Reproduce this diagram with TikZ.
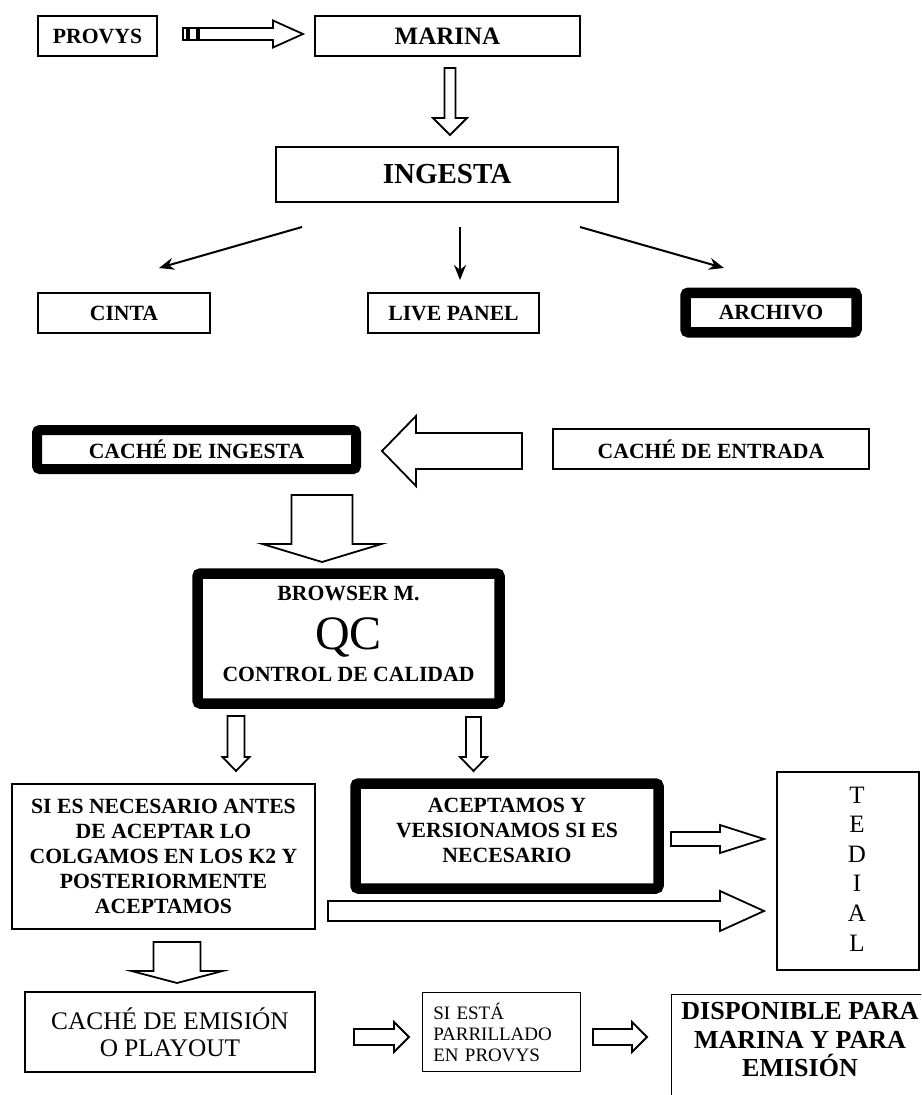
\documentclass[tikz,border=0pt]{standalone}
\usepackage{fontspec}
\setmainfont{Liberation Serif}
\usetikzlibrary{calc,arrows.meta,positioning}

\tikzset{
  box/.style={draw, line width=1.3pt, inner sep=0pt, align=center},
  heavybox/.style={draw, line width=10.5pt, rounded corners=3pt, inner sep=0pt, align=center},
  blockarr/.style={draw, line width=1.8pt, fill=white, line join=miter},
  flow/.style={-{Stealth[length=15pt,width=12pt]}, line width=2pt},
  bf/.style={font=\fontsize{21.7}{25}\selectfont\bfseries},
}

% hollow arrow: tail, tip, half shaft width, half head width, head length
\newcommand{\blockarrow}[5]{
  \path ($(#2)!#5!(#1)$) coordinate (bah);
  \draw[blockarr] ($(#1)!#3!90:(#2)$) -- ($(bah)!#3!90:(#2)$) -- ($(bah)!#4!90:(#2)$) -- (#2)
    -- ($(bah)!#4!-90:(#2)$) -- ($(bah)!#3!-90:(#2)$) -- ($(#1)!#3!-90:(#2)$) -- cycle;
}

\begin{document}
\begin{tikzpicture}[x=1pt,y=-1pt]
  \path[use as bounding box, fill=white] (0,0) rectangle (921,1095);
  \clip (0,0) rectangle (921,1095);

  \node[box, bf, minimum width=119pt, minimum height=40pt] (provys) at (97.5,36) {PROVYS};
  \node[box, minimum width=265pt, minimum height=40pt, font=\fontsize{25}{29}\selectfont\bfseries] (marina) at (447.5,36) {MARINA};
  \node[box, minimum width=342pt, minimum height=55pt, font=\fontsize{29}{33}\selectfont\bfseries] (ingesta) at (447,174.5) {INGESTA};

  \node[box, bf, minimum width=172pt, minimum height=40pt] (cinta) at (124,313) {CINTA};
  \node[box, bf, minimum width=171pt, minimum height=40pt] (live) at (453.5,313) {LIVE PANEL};
  \node[heavybox, bf, minimum width=171pt, minimum height=39.5pt] (archivo) at (771,312.5) {ARCHIVO};

  \node[heavybox, bf, line width=10pt, minimum width=319pt, minimum height=39pt] (ingcache) at (196.5,449.5) {CACHÉ DE INGESTA};
  \node[box, bf, minimum width=316pt, minimum height=40pt] (entcache) at (711,449) {CACHÉ DE ENTRADA};

  % control de calidad
  \node[heavybox, minimum width=302pt, minimum height=130pt] (qc) at (348.5,638.5) {};
  \node[bf] (qctop) at (348.5,593) {BROWSER M.};
  \node[anchor=base, font=\fontsize{48}{50}\selectfont] (qcbig) at (348.5,649) {QC};
  \node[bf] (qcbot) at (348.5,674) {CONTROL DE CALIDAD};

  \node[box, bf, minimum width=303pt, minimum height=145pt] (colgar) at (163.5,856.5)
    {SI ES NECESARIO ANTES\\DE ACEPTAR LO\\COLGAMOS EN LOS K2 Y\\POSTERIORMENTE\\ACEPTAMOS};
  \node[heavybox, minimum width=303pt, minimum height=105pt] (aceptar) at (507,836) {};
  \node[bf, align=center] (aceptxt) at (507,830) {ACEPTAMOS Y\\VERSIONAMOS SI ES\\NECESARIO};
  \node[box, minimum width=142pt, minimum height=198pt] (tedial) at (848,871) {};
  \node[align=center, font=\fontsize{25}{29.6}\selectfont] (tedtxt) at (857,869) {T\\E\\D\\I\\A\\L};

  % salida
  \node[box, minimum width=290pt, minimum height=80pt, font=\fontsize{25.3}{27}\selectfont] (emision) at (170,1032)
    {CACHÉ DE EMISIÓN\\O PLAYOUT};
  \node[box, right=106pt of emision, minimum width=158pt, minimum height=79pt, text width=136pt, inner xsep=11pt,
    align=left, font=\fontsize{19}{21}\selectfont] (parrilla) {SI ESTÁ\\PARRILLADO\\EN PROVYS};
  \node[box, anchor=north west, minimum width=268pt, minimum height=130pt] (disp) at (671,994) {};
  \node[align=center, font=\fontsize{26}{28.5}\selectfont\bfseries] (disptxt) at (800,1040)
    {DISPONIBLE PARA\\MARINA Y PARA\\EMISIÓN};

  \coordinate (pm1) at (199,34);   \coordinate (pm2) at (303,34);
  \coordinate (mi1) at (450,68);   \coordinate (mi2) at (450,135);
  \coordinate (oc1) at (302,227);  \coordinate (oc2) at (159,268);
  \coordinate (ol1) at (460,227);  \coordinate (ol2) at (460,280);
  \coordinate (oa1) at (580,227);  \coordinate (oa2) at (724,268);
  \coordinate (ec1) at (522,451);  \coordinate (ec2) at (382,451);
  \coordinate (iq1) at (322,495);  \coordinate (iq2) at (322,562);
  \coordinate (qa1) at (236,716);  \coordinate (qa2) at (236,771);
  \coordinate (qb1) at (473.5,717); \coordinate (qb2) at (473.5,771);
  \coordinate (at1) at (671,839);  \coordinate (at2) at (764,839);
  \coordinate (ct1) at (328,911);  \coordinate (ct2) at (764,911);
  \coordinate (ce1) at (177,942);  \coordinate (ce2) at (177,983);
  \coordinate (ep1) at (354,1037); \coordinate (ep2) at (409,1037);
  \coordinate (pd1) at (593,1037); \coordinate (pd2) at (647,1037);

  \draw[blockarr] (183,28) rectangle (187,40) (189,28) rectangle (197,40);
  \blockarrow{pm1}{pm2}{6pt}{13.5pt}{30pt}
  \blockarrow{mi1}{mi2}{5.5pt}{17pt}{17pt}

  \draw[flow] (oc1) -- (oc2);
  \draw[flow] (ol1) -- (ol2);
  \draw[flow] (oa1) -- (oa2);

  \blockarrow{ec1}{ec2}{18pt}{35pt}{34pt}
  \blockarrow{iq1}{iq2}{30.5pt}{59.5pt}{18pt}
  \blockarrow{qa1}{qa2}{8.5pt}{13.5pt}{14pt}
  \blockarrow{qb1}{qb2}{7.5pt}{13.5pt}{14pt}
  \blockarrow{at1}{at2}{7pt}{14pt}{44pt}
  \blockarrow{ct1}{ct2}{10pt}{20pt}{44pt}
  \blockarrow{ce1}{ce2}{23.5pt}{45.5pt}{12pt}
  \blockarrow{ep1}{ep2}{8pt}{15pt}{15pt}
  \blockarrow{pd1}{pd2}{8pt}{15pt}{15pt}
\end{tikzpicture}
\end{document}
